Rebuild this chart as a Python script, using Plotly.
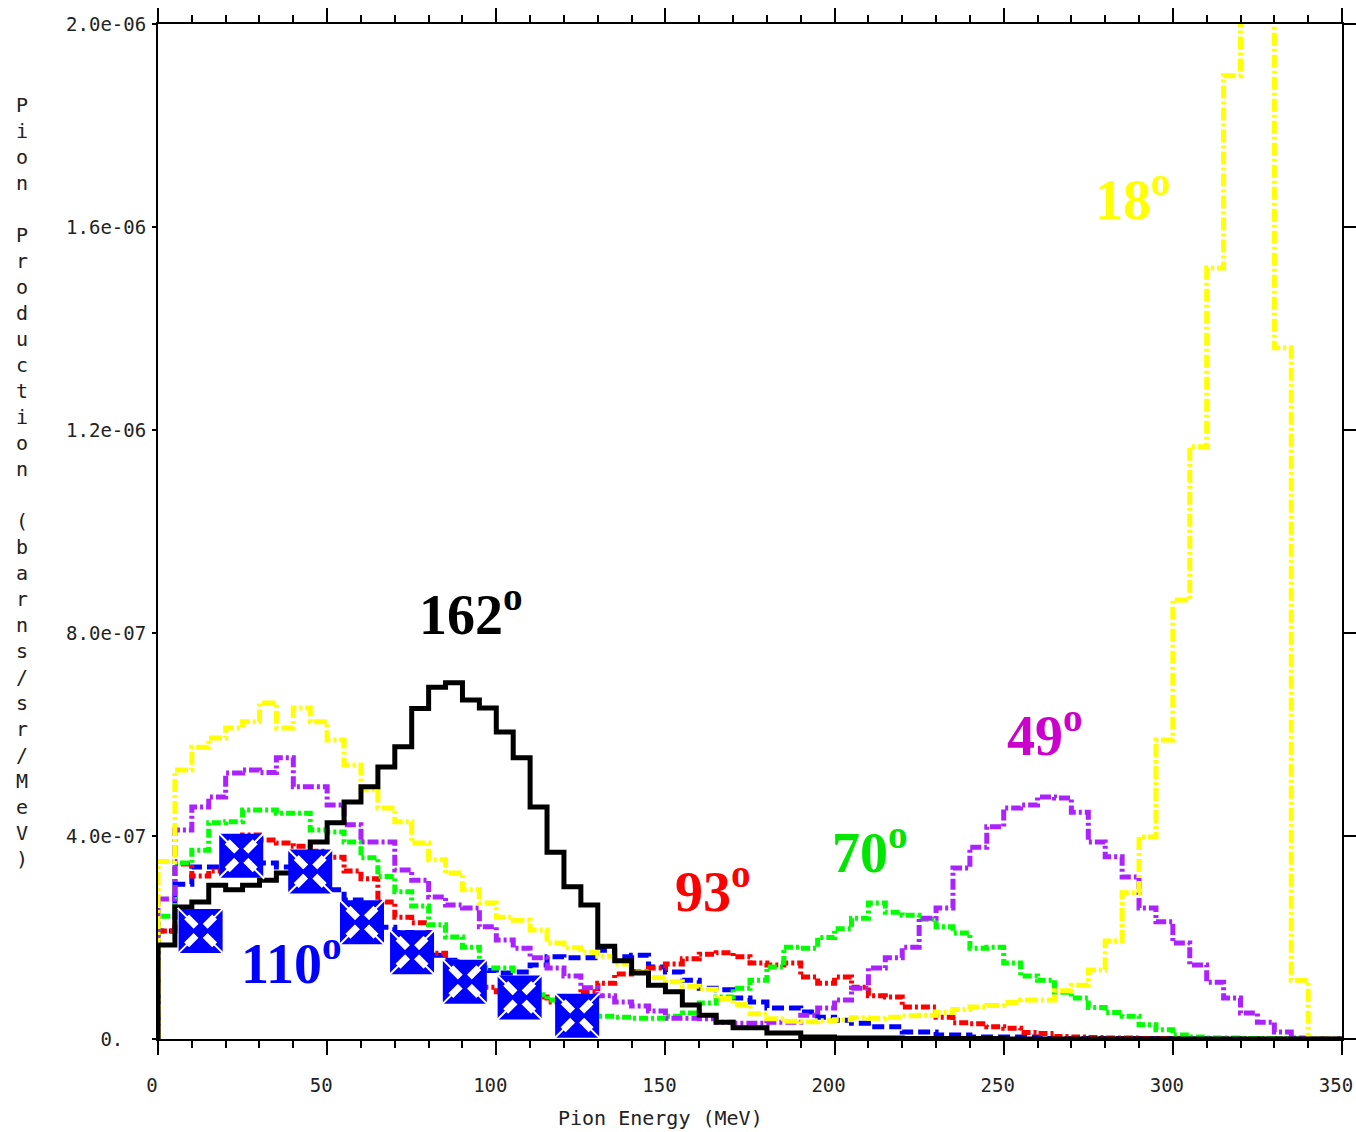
import plotly.graph_objects as go

# Energy binning (MeV): 70 bins of 5 MeV from 0 to 350
bin_lo = list(range(0, 350, 5))
e_max = 350

# Pion production spectra in units of 1e-7 barns/sr/MeV, one value per bin
theta_162 = [1.85, 2.60, 2.70, 3.03, 2.94, 3.03, 3.13, 3.27, 3.57, 3.88,
             4.26, 4.67, 4.97, 5.36, 5.76, 6.51, 6.93, 7.02, 6.68, 6.52,
             6.05, 5.54, 4.57, 3.68, 3.00, 2.64, 1.83, 1.54, 1.30, 1.06,
             0.93, 0.67, 0.47, 0.33, 0.22, 0.22, 0.12, 0.12, 0.04, 0.04,
             0.02, 0.02, 0.02, 0.02, 0.01, 0.01, 0.01, 0.01, 0.01, 0.01,
             0.0, 0.0, 0.0, 0.0, 0.0, 0.0, 0.0, 0.0, 0.0, 0.0,
             0.0, 0.0, 0.0, 0.0, 0.0, 0.0, 0.0, 0.0, 0.0, 0.0]

theta_18 = [3.50, 5.30, 5.75, 5.93, 6.13, 6.25, 6.62, 6.13, 6.52, 6.25,
            5.89, 5.40, 4.91, 4.55, 4.28, 3.86, 3.53, 3.27, 2.94, 2.68,
            2.40, 2.34, 2.15, 1.89, 1.80, 1.71, 1.63, 1.48, 1.32, 1.21,
            1.13, 1.04, 0.98, 0.80, 0.68, 0.50, 0.40, 0.35, 0.34, 0.36,
            0.38, 0.42, 0.41, 0.43, 0.46, 0.47, 0.52, 0.58, 0.63, 0.66,
            0.72, 0.77, 0.77, 0.95, 1.06, 1.36, 1.93, 2.88, 3.98, 5.89,
            8.65, 11.67, 15.19, 18.98, 24.0, 28.0, 13.62, 1.16, 0.0, 0.0]

theta_49 = [2.76, 4.12, 4.57, 4.77, 5.24, 5.30, 5.25, 5.54, 4.97, 4.97,
            4.61, 4.22, 3.88, 3.88, 3.33, 3.13, 2.80, 2.64, 2.58, 2.21,
            1.95, 1.79, 1.60, 1.40, 1.24, 1.01, 0.85, 0.73, 0.65, 0.55,
            0.41, 0.41, 0.40, 0.33, 0.31, 0.31, 0.33, 0.33, 0.47, 0.61,
            0.77, 1.00, 1.40, 1.60, 1.81, 2.38, 2.58, 3.37, 3.78, 4.18,
            4.55, 4.61, 4.77, 4.75, 4.47, 3.88, 3.59, 3.19, 2.58, 2.31,
            1.89, 1.46, 1.12, 0.81, 0.51, 0.33, 0.14, 0.02, 0.0, 0.0]

theta_70 = [2.42, 3.47, 3.72, 4.26, 4.28, 4.51, 4.51, 4.45, 4.45, 4.12,
            4.08, 3.88, 3.57, 3.20, 2.90, 2.62, 2.25, 2.01, 1.81, 1.40,
            1.40, 1.10, 0.87, 0.77, 0.51, 0.47, 0.45, 0.43, 0.41, 0.41,
            0.45, 0.51, 0.71, 0.83, 1.00, 1.16, 1.42, 1.81, 1.79, 2.00,
            2.17, 2.38, 2.68, 2.50, 2.44, 2.36, 2.21, 2.09, 1.79, 1.81,
            1.50, 1.24, 1.16, 0.92, 0.81, 0.62, 0.52, 0.45, 0.28, 0.18,
            0.08, 0.04, 0.02, 0.02, 0.01, 0.01, 0.01, 0.01, 0.0, 0.0]

theta_93 = [2.13, 3.45, 3.21, 3.31, 3.94, 4.02, 3.92, 3.86, 3.80, 3.70,
            3.58, 3.31, 3.16, 2.70, 2.40, 2.29, 1.69, 1.52, 1.36, 1.02,
            0.93, 0.91, 0.83, 0.73, 0.80, 0.93, 1.10, 1.28, 1.33, 1.40,
            1.48, 1.58, 1.67, 1.70, 1.62, 1.50, 1.46, 1.50, 1.22, 1.10,
            1.22, 1.02, 0.85, 0.83, 0.63, 0.63, 0.43, 0.32, 0.30, 0.24,
            0.21, 0.13, 0.11, 0.05, 0.04, 0.03, 0.02, 0.02, 0.01, 0.01,
            0.01, 0.01, 0.01, 0.01, 0.01, 0.01, 0.01, 0.0, 0.0, 0.0]

theta_110 = [2.13, 3.05, 3.39, 3.39, 3.45, 3.45, 3.47, 3.39, 3.39, 3.07,
             2.94, 2.74, 2.55, 2.20, 2.10, 1.90, 1.65, 1.55, 1.45, 1.35,
             1.30, 1.32, 1.46, 1.62, 1.60, 1.60, 1.75, 1.62, 1.65, 1.42,
             1.32, 1.16, 1.00, 0.97, 0.81, 0.73, 0.61, 0.61, 0.53, 0.43,
             0.37, 0.31, 0.24, 0.24, 0.14, 0.14, 0.08, 0.08, 0.04, 0.04,
             0.04, 0.04, 0.01, 0.01, 0.01, 0.01, 0.01, 0.01, 0.01, 0.01,
             0.0, 0.0, 0.0, 0.0, 0.0, 0.0, 0.0, 0.0, 0.0, 0.0]

# Measured points at 110 degrees (MeV, 1e-7 barns/sr/MeV)
meas_e = [12.6, 24.6, 45.0, 60.3, 75.1, 90.7, 106.9, 123.9]
meas_y = [2.13, 3.61, 3.30, 2.30, 1.71, 1.13, 0.82, 0.46]

# Axis tick labels
y_tickvals = [0, 4e-7, 8e-7, 1.2e-6, 1.6e-6, 2.0e-6]
y_ticktext = ["0.\u00a0\u00a0", "4.0e-07", "8.0e-07", "1.2e-06", "1.6e-06", "2.0e-06"]
x_tickvals = [0, 50, 100, 150, 200, 250, 300, 350]

SCALE = 1e-7

series = [
    # (values, colour, dash, label, label colour, label x, label y)
    (theta_110, "#0000ff", "12px,5px", "110", "#0000ff", 39.6, 1.56),
    (theta_93, "#ff0000", "9px,3px,3px,3px", "93", "#ff0000", 164.2, 2.98),
    (theta_70, "#00ff00", "9px,3px,3px,3px", "70", "#00e600", 210.4, 3.76),
    (theta_49, "#aa22ff", "11px,3px,3px,3px", "49", "#cc00cc", 262.3, 6.05),
    (theta_18, "#ffff00", "13px,3px,3px,3px", "18", "#ffff00", 288.3, 16.62),
    (theta_162, "#000000", "solid", "162", "#000000", 92.4, 8.45),
]


def step_xy(vals):
    xs = [0] + bin_lo + [e_max]
    ys = [0] + [v * SCALE for v in vals] + [vals[-1] * SCALE]
    return xs, ys


fig = go.Figure()

for vals, col, dash, lab, lab_col, lx, ly in series:
    xs, ys = step_xy(vals)
    fig.add_trace(go.Scatter(
        x=xs, y=ys, mode="lines", line_shape="hv",
        line=dict(color=col, width=5, dash=dash),
        hoverinfo="skip", showlegend=False,
    ))

# Cross-pattee markers: blue square, white diagonal petals, blue hub
my = [v * SCALE for v in meas_y]
marker_layers = [
    dict(symbol="square", size=44, color="#0000ff", line=dict(width=0)),
    dict(symbol="x-thin-open", size=46, color="white", line=dict(width=2, color="white")),
    dict(symbol="x-thin-open", size=28, color="white", line=dict(width=7, color="white")),
    dict(symbol="diamond", size=14, color="#0000ff", line=dict(width=0)),
]
for mk in marker_layers:
    fig.add_trace(go.Scatter(
        x=meas_e, y=my, mode="markers", marker=mk,
        showlegend=False, hoverinfo="skip", cliponaxis=False,
    ))

# Dummy trace so the right-hand axis is drawn
fig.add_trace(go.Scatter(x=[None], y=[None], yaxis="y2", showlegend=False))

# Angle labels
for vals, col, dash, lab, lab_col, lx, ly in series:
    fig.add_annotation(
        x=lx, y=ly * SCALE, xref="x", yref="y",
        text=f"<b>{lab}<sup>o</sup></b>", showarrow=False,
        font=dict(family="Liberation Serif", size=56, color=lab_col),
        xanchor="center", yanchor="middle",
    )

mono = dict(family="DejaVu Sans Mono", size=19, color="#222222")

# Vertical stacked y-axis title
ytitle = "Pion Production (barns/sr/MeV)"
stacked = "<br>".join(c if c != " " else "\u00a0" for c in ytitle)
fig.add_annotation(
    x=-0.1149, y=0.549, xref="paper", yref="paper",
    text=stacked, showarrow=False, xanchor="center", yanchor="middle",
    font=dict(family="DejaVu Sans Mono", size=20, color="#222222"),
)
fig.add_annotation(
    x=0.4248, y=-0.078, xref="paper", yref="paper",
    text="Pion Energy (MeV)", showarrow=False, xanchor="center", yanchor="middle",
    font=dict(family="DejaVu Sans Mono", size=20, color="#222222"),
)

fig.update_layout(
    width=1356, height=1132, autosize=False,
    margin=dict(l=158, r=14, t=24, b=93, pad=0, autoexpand=False),
    paper_bgcolor="white", plot_bgcolor="white",
    showlegend=False,
    xaxis=dict(
        range=[0, 350], showgrid=False, zeroline=False,
        showline=True, linecolor="black", linewidth=2,
        mirror="ticks", ticks="outside", ticklen=14, tickwidth=2, tickcolor="black",
        tickvals=x_tickvals, tickfont=mono, ticklabelstandoff=14,
        ticklabelshift=-6, automargin=False,
        minor=dict(dtick=10, ticks="outside", ticklen=7, tickwidth=2, tickcolor="black"),
    ),
    yaxis=dict(
        range=[0, 2.0e-6], showgrid=False, zeroline=False,
        showline=True, linecolor="black", linewidth=2,
        ticks="outside", ticklen=4, tickwidth=2, tickcolor="black",
        tickvals=y_tickvals, ticktext=y_ticktext, tickfont=mono,
        ticklabelstandoff=2, automargin=False,
    ),
    yaxis2=dict(
        range=[0, 2.0e-6], overlaying="y", side="right", anchor="x",
        showgrid=False, zeroline=False, showline=True, linecolor="black",
        linewidth=2, ticks="outside", ticklen=13, tickwidth=2, tickcolor="black",
        tickvals=y_tickvals, showticklabels=False, automargin=False,
    ),
)

fig.write_html("out.html")
